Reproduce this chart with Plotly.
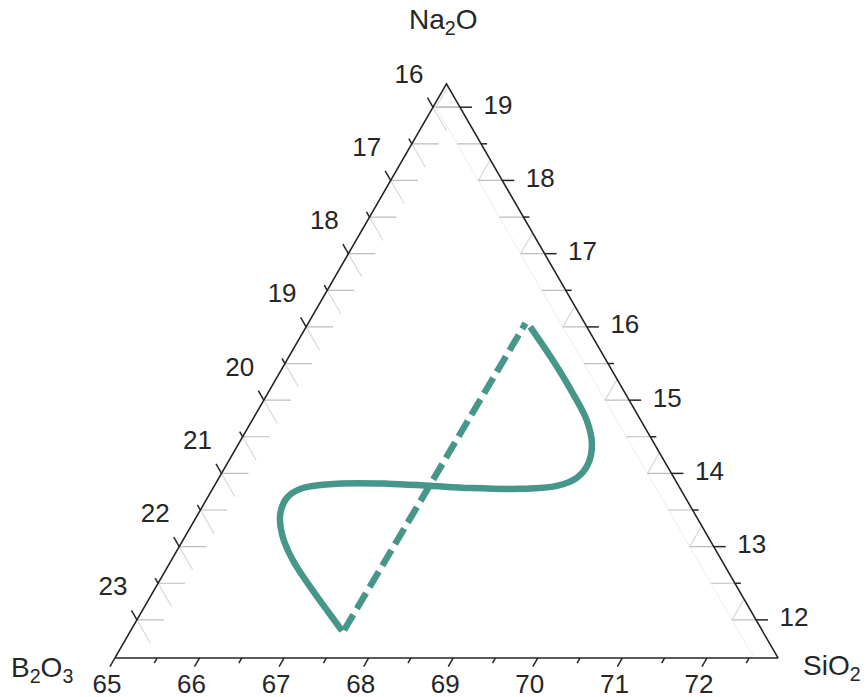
import math
import plotly.graph_objects as go

# ---- composition window shown as the triangle (wt%) ----
NA2O_MIN, B2O3_MIN, SIO2_MIN, TOTAL = 11.48, 15.68, 65.0, 100.0
SPAN = TOTAL - NA2O_MIN - B2O3_MIN - SIO2_MIN

# wider ternary frame so that the tick marks and labels outside the window stay visible
FRAME_NA2O, FRAME_B2O3, FRAME_SIO2 = 11.016, 15.167, 64.452
FRAME_SPAN = TOTAL - FRAME_NA2O - FRAME_B2O3 - FRAME_SIO2

# ---- tick values ----
na2o_major = [12, 13, 14, 15, 16, 17, 18, 19]
na2o_minor = [12.5, 13.5, 14.5, 15.5, 16.5, 17.5, 18.5]
b2o3_major = [16, 17, 18, 19, 20, 21, 22, 23]
b2o3_minor = [16.5, 17.5, 18.5, 19.5, 20.5, 21.5, 22.5]
sio2_major = [65, 66, 67, 68, 69, 70, 71, 72]
sio2_minor = [65.5, 66.5, 67.5, 68.5, 69.5, 70.5, 71.5, 72.5]

# ---- composition path (Na2O, B2O3, SiO2) ----
loop_na2o = [16.00, 15.54, 15.09, 14.72, 14.40, 14.13, 13.94, 13.83, 13.79, 13.80, 13.83,
             13.86, 13.86, 13.80, 13.67, 13.45, 13.17, 12.81, 12.40, 12.08, 11.85]
loop_b2o3 = [16.35, 16.31, 16.30, 16.32, 16.42, 16.60, 16.83, 17.12, 17.57, 18.16, 18.62,
             19.11, 19.70, 20.14, 20.39, 20.58, 20.70, 20.75, 20.72, 20.68, 20.65]
loop_sio2 = [67.65, 68.15, 68.61, 68.96, 69.18, 69.27, 69.23, 69.05, 68.64, 68.04, 67.55,
             67.03, 66.44, 66.06, 65.94, 65.97, 66.13, 66.44, 66.88, 67.24, 67.50]

# straight join between the two ends
tie_na2o = [11.86, 16.05]
tie_b2o3 = [20.62, 16.38]
tie_sio2 = [67.52, 67.57]

# ---- page geometry ----
W, H = 867, 697
ML, MR, MT, MB = 49, 26, 6, 5
S3 = math.sqrt(3) / 2
SIDE = min(W - ML - MR, (H - MT - MB) / S3)
UNIT = SIDE / FRAME_SPAN  # px per wt% along an edge

TEAL = "#47968a"
INK = "#262626"
FONT = "Liberation Sans, Arial, sans-serif"


def shift(pt, dx, dy):
    """Move a composition point by a screen offset in px."""
    na, b, si = pt
    d_na = -dy / (UNIT * S3)
    d_si = dx / UNIT - d_na / 2
    d_b = -(d_na + d_si)
    return (na + d_na, b + d_b, si + d_si)


def right_pt(v):
    return (v, B2O3_MIN, TOTAL - v - B2O3_MIN)


def left_pt(v):
    return (TOTAL - v - SIO2_MIN, v, SIO2_MIN)


def bottom_pt(v):
    return (NA2O_MIN, TOTAL - v - NA2O_MIN, v)


def seg_trace(segs, color, width):
    a, b, c = [], [], []
    for seg in segs:
        for p in seg:
            a.append(p[0]); b.append(p[1]); c.append(p[2])
        a.append(None); b.append(None); c.append(None)
    return go.Scatterternary(a=a, b=b, c=c, mode="lines", hoverinfo="skip",
                             line=dict(color=color, width=width), showlegend=False)


fig = go.Figure()

# faint inner ticks along the left edge
g_left = 27
left_h, left_d = [], []
for v in b2o3_major + b2o3_minor:
    p = left_pt(v)
    left_h.append([p, shift(p, g_left, 0)])
    left_d.append([p, shift(p, 0.5 * g_left, S3 * g_left)])
fig.add_trace(seg_trace(left_d, "#d9d9d9", 1.2))
fig.add_trace(seg_trace(left_h, "#bdbdbd", 1.2))

# faint inner ticks along the right edge
g_right = 24
right_h, right_t = [], []
for v in na2o_major + na2o_minor:
    p = right_pt(v)
    right_h.append([p, shift(p, -g_right, 0)])
for v in na2o_major:
    p = right_pt(v)
    right_t.append([shift(p, -g_right, 0), shift(p, -0.5 * g_right, -S3 * g_right)])
b_in = B2O3_MIN + g_right / UNIT
guide = [[(NA2O_MIN, b_in, TOTAL - NA2O_MIN - b_in), (TOTAL - SIO2_MIN - b_in, b_in, SIO2_MIN)]]
fig.add_trace(seg_trace(guide, "#ececec", 1))
fig.add_trace(seg_trace(right_t, "#d9d9d9", 1.2))
fig.add_trace(seg_trace(right_h, "#bdbdbd", 1.2))

# triangle outline of the composition window
corner_bl = (NA2O_MIN, TOTAL - NA2O_MIN - SIO2_MIN, SIO2_MIN)
corner_br = (NA2O_MIN, B2O3_MIN, TOTAL - NA2O_MIN - B2O3_MIN)
corner_top = (TOTAL - B2O3_MIN - SIO2_MIN, B2O3_MIN, SIO2_MIN)
fig.add_trace(seg_trace([[corner_bl, corner_br, corner_top, corner_bl]], INK, 1.6))

# composition path
fig.add_trace(go.Scatterternary(a=tie_na2o, b=tie_b2o3, c=tie_sio2, mode="lines",
                                hoverinfo="skip", showlegend=False,
                                line=dict(color=TEAL, width=6.5, dash="18px,7px")))
fig.add_trace(go.Scatterternary(a=loop_na2o, b=loop_b2o3, c=loop_sio2, mode="lines",
                                hoverinfo="skip", showlegend=False,
                                line=dict(color=TEAL, width=6.5, shape="spline", smoothing=1.0)))


def tick_marks(values, edge, direction, length, angle):
    pts = [shift(edge(v), direction[0] * length / 2, direction[1] * length / 2) for v in values]
    return go.Scatterternary(
        a=[p[0] for p in pts], b=[p[1] for p in pts], c=[p[2] for p in pts],
        mode="markers", hoverinfo="skip", showlegend=False, cliponaxis=False,
        marker=dict(symbol="line-ew", size=length / 1.4, angle=angle,
                    line=dict(color=INK, width=1.5)))


def tick_labels(values, edge, dx, dy):
    pts = [shift(edge(v), dx, dy) for v in values]
    return go.Scatterternary(
        a=[p[0] for p in pts], b=[p[1] for p in pts], c=[p[2] for p in pts],
        mode="text", text=[str(v) for v in values], textposition="middle center",
        textfont=dict(family=FONT, size=26, color=INK),
        hoverinfo="skip", showlegend=False, cliponaxis=False)


R_OUT, L_OUT, B_OUT = (1, 0), (-0.5, -S3), (-0.5, S3)
fig.add_trace(tick_marks(na2o_major, right_pt, R_OUT, 12, 0))
fig.add_trace(tick_marks(na2o_minor, right_pt, R_OUT, 6, 0))
fig.add_trace(tick_marks(b2o3_major, left_pt, L_OUT, 11, 60))
fig.add_trace(tick_marks(b2o3_minor, left_pt, L_OUT, 6, 60))
fig.add_trace(tick_marks(sio2_major, bottom_pt, B_OUT, 10, -60))
fig.add_trace(tick_marks(sio2_minor, bottom_pt, B_OUT, 6, -60))

fig.add_trace(tick_labels(na2o_major, right_pt, 38, 0))
fig.add_trace(tick_labels(b2o3_major, left_pt, -24, -31))
fig.add_trace(tick_labels(sio2_major, bottom_pt, -8, 29))

axis_common = dict(showticklabels=False, ticks="", showgrid=False, showline=False,
                   title=dict(text=""))
fig.update_layout(
    width=W, height=H,
    margin=dict(l=ML, r=MR, t=MT, b=MB, pad=0),
    paper_bgcolor="white", plot_bgcolor="white",
    showlegend=False,
    ternary=dict(
        sum=TOTAL, bgcolor="white",
        domain=dict(x=[0, 1], y=[0, 1]),
        aaxis=dict(min=FRAME_NA2O, **axis_common),
        baxis=dict(min=FRAME_B2O3, **axis_common),
        caxis=dict(min=FRAME_SIO2, **axis_common),
    ),
    font=dict(family=FONT, color=INK),
)

title_font = dict(family=FONT, size=28, color=INK)
for txt, x, y in [("Na<sub>2</sub>O", 0.4975, 0.9767),
                  ("B<sub>2</sub>O<sub>3</sub>", -0.0088, 0.0335),
                  ("SiO<sub>2</sub>", 0.989, 0.036)]:
    fig.add_annotation(text=txt, x=x, y=y, xref="paper", yref="paper",
                       xanchor="center", yanchor="middle", showarrow=False, font=title_font)

fig.write_html("out.html")
